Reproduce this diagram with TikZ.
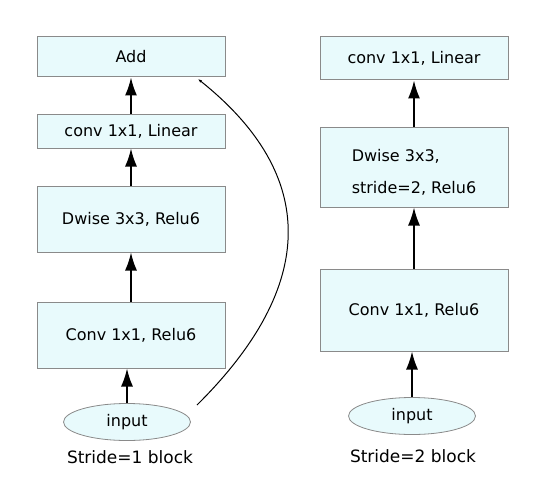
\documentclass[tikz,border=0pt]{standalone}
\usepackage{fontspec}
\setmainfont{DejaVu Sans}
\usetikzlibrary{arrows.meta,shapes.geometric}
\definecolor{boxfill}{RGB}{232,250,252}
\definecolor{boxline}{RGB}{138,138,138}

\begin{document}
\begin{tikzpicture}[x=1pt, y=-1pt, font=\fontsize{16}{32}\selectfont,
    layer/.style={draw=boxline, fill=boxfill, line width=1pt, minimum width=188pt,
                  inner sep=0pt, align=left},
    inp/.style={ellipse, draw=boxline, fill=boxfill, line width=0.8pt,
                minimum width=127pt, minimum height=37pt, inner sep=0pt},
    flow/.style={line width=1.6pt, -{Latex[length=18pt,width=12pt]}},
    caption/.style={font=\fontsize{17}{20}\selectfont}]
  \useasboundingbox (0,0) rectangle (556,500);
  % ---------------- stride 1 block (residual) ----------------
  \node[layer, minimum height=40pt] (add)  at (131,57)  {Add};
  \node[layer, minimum height=34pt] (linL) at (131,131) {conv 1x1, Linear};
  \node[layer, minimum height=66pt] (dwL)  at (131,219) {Dwise 3x3, Relu6};
  \node[layer, minimum height=66pt] (cvL)  at (131,335) {Conv 1x1, Relu6};
  \node[inp] (inL) at (127,422) {input};
  \node[caption] (capL) at (130,457) {Stride=1 block};
  \draw[flow] (inL.north) -- (cvL.south -| inL.north);
  \draw[flow] (cvL) -- (dwL);
  \draw[flow] (dwL) -- (linL);
  \draw[flow] (linL) -- (add);
  % shortcut from the input straight to the add
  \coordinate (skipA) at (197,405);
  \coordinate (skipB) at (198,79);
  \draw[line width=1pt, -{Latex[length=4pt,width=3pt]}]
    (skipA) .. controls (318,285) and (318,175) .. (skipB);
  % ---------------- stride 2 block ----------------
  \node[layer, minimum height=43pt] (linR) at (414,58.5) {conv 1x1, Linear};
  \node[layer, minimum height=80pt, text height=54pt] (dwR) at (414,167)
    {Dwise 3x3,\\stride=2, Relu6};
  \node[layer, minimum height=82pt] (cvR) at (414,310) {Conv 1x1, Relu6};
  \node[inp] (inR) at (412,416) {input};
  \node[caption] (capR) at (413,456) {Stride=2 block};
  \draw[flow] (inR.north) -- (cvR.south -| inR.north);
  \draw[flow] (cvR) -- (dwR);
  \draw[flow] (dwR) -- (linR);
\end{tikzpicture}
\end{document}
